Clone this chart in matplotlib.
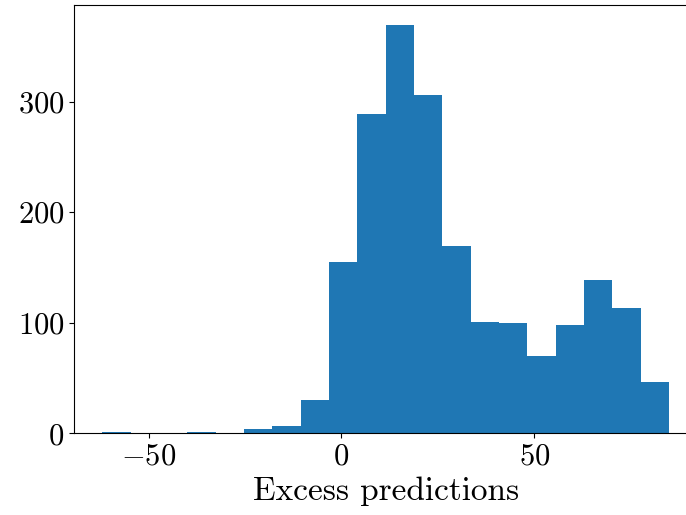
#!/usr/bin/env python3
"""Histogram of excess predictions."""
import matplotlib as mpl
mpl.use("Agg")
import matplotlib.pyplot as plt
import numpy as np

# bin range and counts
bin_lo = -62.0
bin_hi = 85.0
n_bins = 20
counts = [1, 0, 0, 1, 0, 4, 7, 30, 155, 289, 369, 306, 169, 101, 100, 70, 98, 139, 113, 46]
xticks = [-50, 0, 50]
yticks = [0, 100, 200, 300]


def main() -> None:
    mpl.rcParams.update(
        {
            "font.family": "serif",
            "font.serif": ["cmr10"],
            "mathtext.fontset": "cm",
            "axes.formatter.use_mathtext": True,
            "font.size": 22,
            "axes.labelsize": 24,
            "xtick.labelsize": 22,
            "ytick.labelsize": 22,
        }
    )

    edges = np.linspace(bin_lo, bin_hi, n_bins + 1)
    centers = (edges[:-1] + edges[1:]) / 2

    fig = plt.figure(figsize=(6.86, 5.15), dpi=100)
    ax = fig.add_axes([74 / 686, 81.7 / 515, (697.5 - 74) / 686, 428.3 / 515])
    ax.hist(centers, bins=edges, weights=counts, color="#1f77b4")
    ax.set_xticks(xticks)
    ax.set_yticks(yticks)
    ax.set_xlabel("Excess predictions", labelpad=4)

    fig.savefig("out.png", dpi=100)


if __name__ == "__main__":
    main()
